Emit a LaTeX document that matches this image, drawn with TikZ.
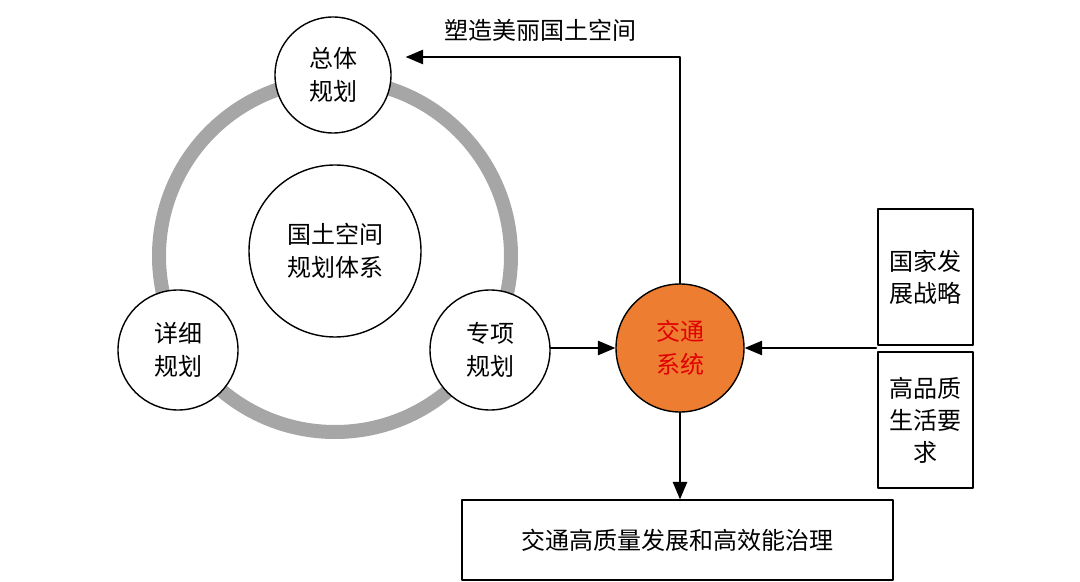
\documentclass[tikz,border=0pt]{standalone}
\usepackage{fontspec}
\setmainfont{Noto Sans CJK SC}
\usetikzlibrary{arrows}
\definecolor{ringgray}{RGB}{166,166,166}
\definecolor{traforange}{RGB}{237,125,49}
\definecolor{trafred}{RGB}{225,0,0}

\begin{document}
\begin{tikzpicture}[line cap=round,line join=round,>=triangle 45,x=0.5pt,y=-0.5pt,
  plan/.style={circle,draw,fill=white,line width=0.7pt,inner sep=0pt,align=center,font=\fontsize{12}{16.5}\selectfont},
  box/.style={rectangle,draw,line width=0.7pt,inner sep=0pt,align=center,font=\fontsize{12}{16}\selectfont},
  link/.style={->,line width=1pt}]
\useasboundingbox (0,0) rectangle (1080,582);
\draw [color=ringgray,line width=7pt] (335,256) circle (88pt);
\node [plan,minimum size=58pt] (overall) at (333,75) {总体\\规划};
\node [plan,minimum size=86pt] (system) at (335,251) {国土空间\\规划体系};
\node [plan,minimum size=60pt] (detail) at (178,350) {详细\\规划};
\node [plan,minimum size=60pt] (special) at (490,350) {专项\\规划};
\node [plan,minimum size=64pt,fill=traforange,text=trafred] (traffic) at (680,348) {交通\\系统};
\node [box,minimum width=47.5pt,minimum height=68pt] (strategy) at (925.5,277) {国家发\\展战略};
\node [box,minimum width=47.5pt,minimum height=68pt] (life) at (925.5,420) {高品质\\生活要\\求};
\node [box,minimum width=215.5pt,minimum height=40pt] (outcome) at (677.5,540) {交通高质量发展和高效能治理};
\coordinate (gap) at (876,348);
\draw [link] (special.east |- traffic) -- (traffic.west);
\draw [link] (gap) -- (traffic.east);
\draw [link] (traffic.south) -- (traffic.south |- outcome.north);
\draw [link] (traffic.north) |- ([xshift=7pt,yshift=9pt]overall.east);
\draw (540,30) node [font=\fontsize{12}{16}\selectfont] (shape) {塑造美丽国土空间};
\end{tikzpicture}
\end{document}
